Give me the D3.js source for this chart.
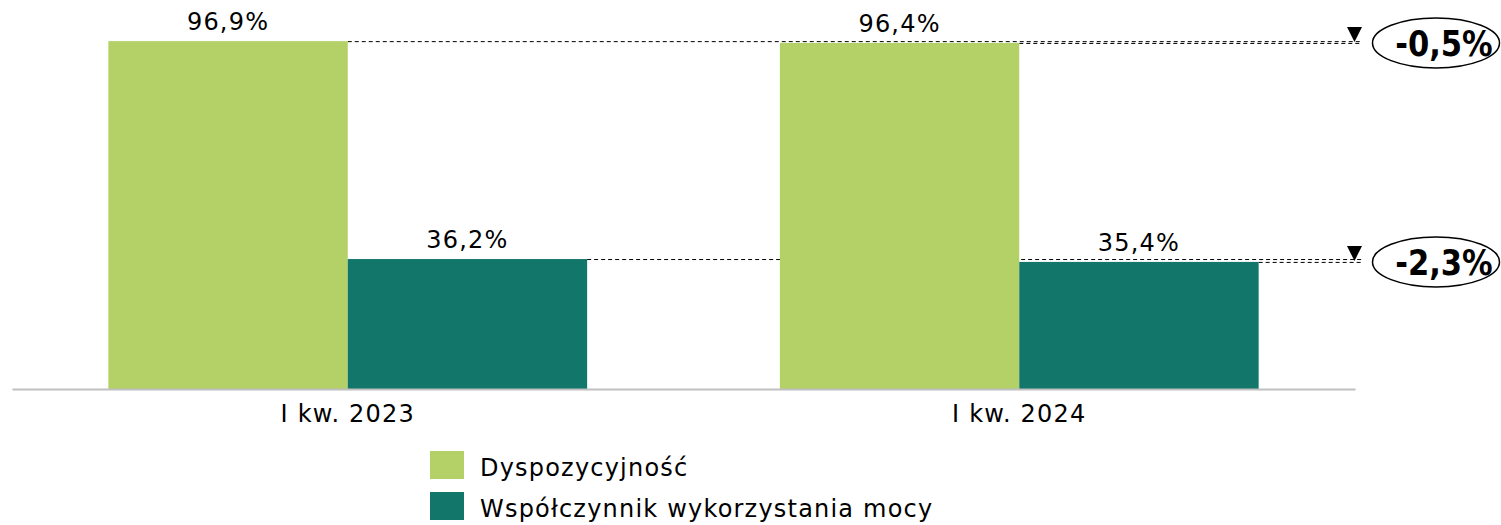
<!DOCTYPE html>
<html>
<head>
<meta charset="utf-8">
<script src="https://d3js.org/d3.v7.min.js"></script>
<style>
  body { margin: 0; background: #fff; }
  svg text { font-family: Verdana, "DejaVu Sans", sans-serif; fill: #000; letter-spacing: 1.2px; }
  .badge text { font-family: "DejaVu Sans", sans-serif; font-weight: bold; letter-spacing: 0; }
</style>
</head>
<body>
<div id="chart"></div>
<script>
// quarters and the two series (in %)
const categories = ["I kw. 2023", "I kw. 2024"];
const seriesNames = ["Dyspozycyjność", "Współczynnik wykorzystania mocy"];
const availability = [96.9, 96.4];
const capacityFactor = [36.2, 35.4];
const changes = ["-0,5%", "-2,3%"];
const colors = ["#b3d167", "#12766a"];

const width = 1501, height = 525;
const svg = d3.select("#chart").append("svg")
  .attr("width", width)
  .attr("height", height);

const x = d3.scaleBand()
  .domain(categories)
  .range([12, 1355])
  .paddingInner(0.287)
  .paddingOuter(0.1435);

const xs = d3.scaleBand()
  .domain(seriesNames)
  .range([0, x.bandwidth()]);

const y = d3.scaleLinear().domain([0, 100]).range([389, 30]);

const fmt = v => v.toFixed(1).replace(".", ",") + "%";

const rows = categories.map((c, i) => ({
  cat: c,
  vals: [
    { s: seriesNames[0], v: availability[i], c: colors[0] },
    { s: seriesNames[1], v: capacityFactor[i], c: colors[1] }
  ]
}));

// dashed reference lines from each bar top to the badges
const lineEnd = 1362;
const guides = svg.append("g");
[availability, capacityFactor].forEach((arr, si) => {
  arr.forEach((v, ci) => {
    guides.append("line")
      .attr("x1", x(categories[ci]) + xs(seriesNames[si]) + xs.bandwidth())
      .attr("x2", lineEnd)
      .attr("y1", y(v) + 0.5)
      .attr("y2", y(v) + 0.5)
      .attr("stroke", "#000")
      .attr("stroke-width", 1)
      .attr("stroke-dasharray", "4,3");
  });
});

// bars
const groups = svg.append("g").selectAll("g")
  .data(rows)
  .join("g")
  .attr("transform", d => `translate(${x(d.cat)},0)`);

groups.selectAll("rect")
  .data(d => d.vals)
  .join("rect")
  .attr("x", d => xs(d.s))
  .attr("y", d => y(d.v))
  .attr("width", xs.bandwidth())
  .attr("height", d => y(0) - y(d.v))
  .attr("fill", d => d.c);

groups.selectAll("text.val")
  .data(d => d.vals)
  .join("text")
  .attr("class", "val")
  .attr("x", d => xs(d.s) + xs.bandwidth() / 2)
  .attr("y", d => y(d.v) - 11)
  .attr("text-anchor", "middle")
  .attr("font-size", 24)
  .text(d => fmt(d.v));

// x axis
const xAxis = svg.append("g")
  .attr("transform", `translate(0,${y(0)})`)
  .call(d3.axisBottom(x).tickSize(0));
xAxis.select(".domain").attr("stroke", "#c0c0c0").attr("stroke-width", 2);
xAxis.selectAll("text")
  .attr("y", 33)
  .attr("dy", 0)
  .attr("font-size", 24)
  .attr("font-family", null)
  .attr("fill", "#000");

// change badges
const badgeY = [y(availability[1]), y(capacityFactor[1])];
const badge = svg.append("g").attr("class", "badge");
badgeY.forEach((by, i) => {
  badge.append("path")
    .attr("d", `M1347,${by - 16} L1362,${by - 16} L1354.5,${by - 1} Z`)
    .attr("fill", "#000");
  badge.append("ellipse")
    .attr("cx", 1436)
    .attr("cy", by)
    .attr("rx", 63.5)
    .attr("ry", 25)
    .attr("fill", "#fff")
    .attr("stroke", "#000")
    .attr("stroke-width", 1.5);
  badge.append("text")
    .attr("transform", `translate(1444,${by + 13}) scale(0.85,1)`)
    .attr("text-anchor", "middle")
    .attr("font-size", 36)
    .text(changes[i]);
});

// legend
const legend = svg.append("g").attr("transform", "translate(430,451)");
seriesNames.forEach((n, i) => {
  const g = legend.append("g").attr("transform", `translate(0,${i * 41})`);
  g.append("rect").attr("width", 34).attr("height", 28).attr("fill", colors[i]);
  g.append("text").attr("x", 50).attr("y", 25).attr("font-size", 24).text(n);
});
</script>
</body>
</html>
